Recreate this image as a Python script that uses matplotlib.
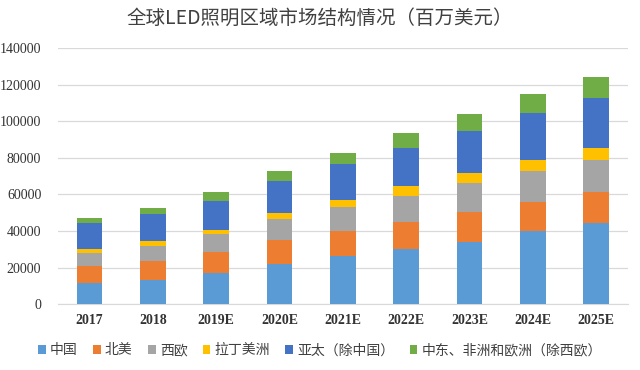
import numpy as np
import matplotlib.pyplot as plt

plt.rcParams['font.family'] = ['Noto Sans CJK SC', 'DejaVu Sans']

years = ['2017', '2018', '2019E', '2020E', '2021E', '2022E', '2023E', '2024E', '2025E']
series = ['中国', '北美', '西欧', '拉丁美洲', '亚太（除中国）', '中东、非洲和欧洲（除西欧）']
china = [11800, 13300, 16900, 22000, 26400, 30100, 34200, 40100, 44600]
north_america = [9100, 10500, 11500, 13100, 13700, 15000, 16100, 16000, 16800]
west_europe = [7300, 8200, 9900, 11300, 13100, 14200, 15800, 16900, 17500]
latin_america = [2200, 2600, 2300, 3300, 4000, 5300, 5500, 5900, 6700]
asia_pacific = [13900, 14600, 16000, 17700, 19500, 21000, 22900, 25500, 27000]
mea = [2700, 3300, 4600, 5300, 5800, 7800, 9500, 10700, 11600]
colors = ['#5B9BD5', '#ED7D31', '#A5A5A5', '#FFC000', '#4472C4', '#70AD47']

data = [china, north_america, west_europe, latin_america, asia_pacific, mea]

fig = plt.figure(figsize=(6.4, 3.7), dpi=100)
ax = fig.add_axes([0.0906, 0.1776, 0.8904, 0.6924])

x = np.arange(len(years))
bottom = np.zeros(len(years))
for vals, name, c in zip(data, series, colors):
    ax.bar(x, vals, 0.405, bottom=bottom, color=c, label=name, zorder=3)
    bottom += np.array(vals)

ax.set_xlim(-0.5, len(years) - 0.5)
ax.set_ylim(0, 140000)
ax.set_yticks(range(0, 140001, 20000))
ax.set_yticklabels([str(v) for v in range(0, 140001, 20000)],
                   family='Liberation Serif', fontsize=10, color='#333333')
ax.set_xticks(x)
ax.set_xticklabels(years, family='Liberation Serif', fontsize=10,
                   fontweight='bold', color='#333333')
ax.grid(axis='y', color='#D9D9D9', linewidth=0.9, zorder=0)
for s in ['top', 'right', 'left']:
    ax.spines[s].set_visible(False)
ax.spines['bottom'].set_color('#D9D9D9')
ax.tick_params(axis='y', length=0, pad=12)
ax.tick_params(axis='x', length=0, pad=7)

fig.text(0.5, 0.951, '全球LED照明区域市场结构情况（百万美元）', ha='center', va='center',
         fontsize=14, color='#404040')

fig.legend(loc='center', bbox_to_anchor=(0.5, 0.053), ncol=6, frameon=False,
           fontsize=10, handlelength=0.55, handleheight=0.55, handletextpad=0.3,
           columnspacing=1.1, labelcolor='#404040')

fig.savefig('out.png', dpi=100)
